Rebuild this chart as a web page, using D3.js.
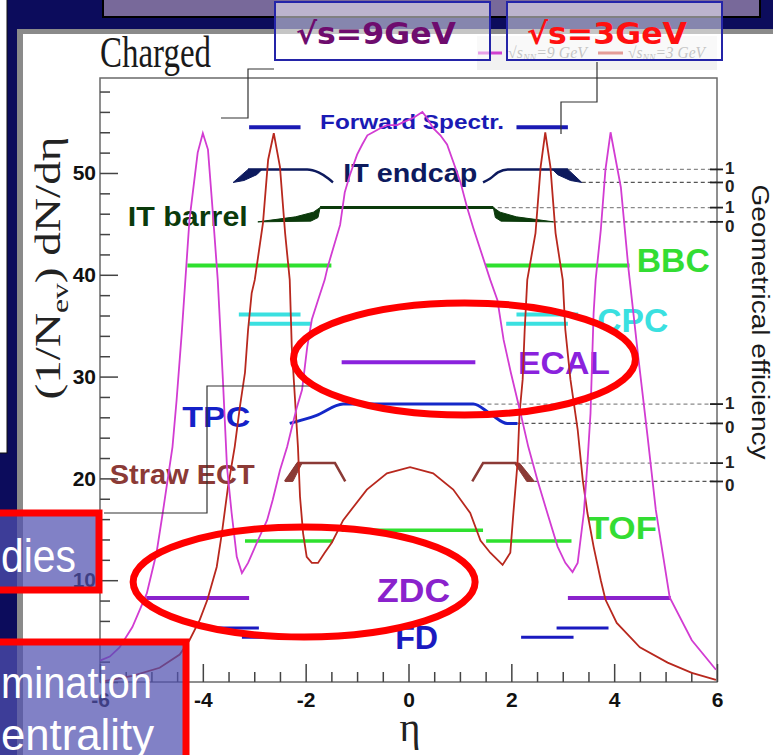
<!DOCTYPE html>
<html>
<head>
<meta charset="utf-8">
<script src="https://cdn.jsdelivr.net/npm/d3@7"></script>
<style>
  html, body { margin: 0; padding: 0; background: #0c0c5c; overflow: hidden; }
  svg { display: block; }
</style>
</head>
<body>
<svg id="chart" width="773" height="755"></svg>
<script>
// ---- charged-particle pseudorapidity distributions ----
const eta9 = [-6.0,-5.81,-5.62,-5.37,-5.09,-4.90,-4.78,-4.59,-4.51,-4.41,-4.26,-4.10,-4.00,-3.90,-3.81,-3.71,-3.61,-3.53,-3.44,-3.34,-3.24,-3.12,-2.93,-2.75,-2.64,-2.50,-2.36,-2.25,-2.17,-2.07,-1.97,-1.88,-1.76,-1.63,-1.57,-1.33,-1.24,-1.14,-1.00,-0.90,-0.80,-0.69,-0.55,-0.42,-0.22,-0.10,0.09,0.27,0.36,0.48,0.62,0.75,0.87,1.01,1.14,1.26,1.59,1.73,1.85,1.99,2.18,2.33,2.51,2.70,2.90,3.05,3.19,3.29,3.41,3.48,3.54,3.60,3.64,3.74,3.83,3.93,4.03,4.13,4.28,4.46,4.65,4.81,5.08,5.51,5.98];
const dn9 = [2.1,2.5,3.4,5.4,8.7,12.7,16.6,23.1,27.7,34.3,45.4,52.0,53.9,52.3,46.4,39.5,29.7,21.1,16.6,12.3,10.7,11.7,13.9,15.9,17.9,20.8,23.1,25.4,27.0,28.7,32.9,35.6,37.5,39.5,40.8,44.9,48.1,49.8,51.8,52.8,53.7,54.0,54.4,54.7,54.7,55.0,55.4,56.0,55.4,54.4,53.7,52.8,51.1,49.1,46.6,44.6,39.5,37.5,33.6,30.4,26.4,23.1,19.8,16.6,13.3,11.7,10.8,11.7,16.6,21.5,26.4,36.2,39.5,44.4,50.3,54.0,51.3,48.6,40.5,32.3,24.1,16.9,8.3,4.1,1.2];

const eta3 = [-6.0,-5.37,-4.84,-4.45,-4.26,-4.06,-3.91,-3.73,-3.63,-3.51,-3.38,-3.28,-3.18,-3.12,-3.05,-2.99,-2.83,-2.73,-2.62,-2.50,-2.40,-2.31,-2.27,-2.21,-2.15,-2.11,-2.05,-1.98,-1.88,-1.76,-1.63,-1.49,-1.27,-0.81,-0.42,0.03,0.48,0.87,1.20,1.40,1.59,1.83,1.98,2.04,2.12,2.16,2.22,2.26,2.31,2.47,2.57,2.66,2.76,2.86,3.00,3.05,3.15,3.29,3.39,3.48,3.60,3.74,3.83,4.05,4.50,5.04,5.51,5.98];
const dn3 = [0.0,0.6,1.4,2.7,4.1,6.1,8.1,11.3,14.6,19.2,23.1,27.0,30.4,34.6,38.2,39.5,45.1,51.3,53.9,50.6,44.1,39.5,32.9,28.0,23.1,18.2,14.6,12.3,11.7,11.7,12.7,13.7,15.9,18.9,20.5,21.1,20.5,18.9,16.6,13.9,12.7,11.5,12.7,16.6,21.5,26.4,29.7,34.6,39.5,44.1,50.6,54.0,50.6,44.1,39.5,34.6,29.7,24.8,19.8,16.6,13.3,10.0,8.1,5.8,3.4,1.9,0.9,0.2];

// ---- axes ----
const xMajorTicks = [-6,-4,-2,0,2,4,6];
const xTickLabels = ["-6","-4","-2","0","2","4","6"];
const yMajorTicks = [0,10,20,30,40,50];
const yTickLabels = ["","10","20","30","40","50"];

// ---- detector acceptances: [eta from, eta to, drawn level] ----
const forwardSpectr = [[-3.1,-2.1,54.5],[2.1,3.1,54.5]];
const bbc = [[-4.3,-1.5,40.9],[1.5,4.3,40.9]];
const cpc = [[-3.3,-2.1,36.1],[-3.1,-1.9,35.2],[1.9,3.1,35.2],[2.1,3.3,36.1]];
const ecal = [[-1.3,1.3,31.4]];
const tof = [[-3.18,-1.47,13.85],[-1.3,1.45,14.9],[1.51,3.17,13.85]];
const zdc = [[-5.1,-3.1,8.25],[3.1,5.1,8.25]];
const fd = [[-3.88,-2.91,5.3],[-3.24,-2.21,4.4],[2.19,3.21,4.4],[2.88,3.89,5.3]];

// ---- geometrical efficiency curves: [eta, efficiency], drawn between "0" and "1" levels ----
const itEndcapLevels = [49.07, 50.35];
const itEndcapLeft = [[-3.12,1],[-1.97,1],[-1.75,0.77],[-1.56,0.3],[-1.47,0]];
const itEndcapRight = [[1.45,0],[1.59,0.3],[1.74,0.77],[1.93,1],[3.1,1]];
const itEndcapWedgeL = [[-3.41,0],[-3.12,1],[-2.85,1],[-2.95,0.6],[-3.2,0.15]];
const itEndcapWedgeR = [[2.8,1],[3.1,1],[3.37,0],[3.15,0.15],[2.9,0.6]];
const itEndcapDash = [3.1, 3.37];

const itBarrelLevels = [45.2, 46.6];
const itBarrel = [[-1.72,1],[1.65,1]];
const itBarrelWedgeL = [[-2.93,0],[-2.2,0.35],[-1.85,0.68],[-1.72,1],[-1.76,0.3],[-1.9,0.05]];
const itBarrelWedgeR = [[1.65,1],[1.78,0.68],[2.1,0.35],[2.82,0],[1.8,0.05],[1.69,0.3]];
const itBarrelDash = [1.6, 2.82];

const tpcLevels = [25.4, 27.3];
const tpc = [[-2.31,0],[-1.8,0.4],[-1.27,1],[1.26,1],[1.59,0.5],[1.92,0],[2.12,0]];
const tpcDash = [1.4, 2.12];

const strawLevels = [19.7, 21.5];
const strawLeft = [[-2.40,0],[-2.15,1],[-1.43,1],[-1.23,0]];
const strawRight = [[1.24,0],[1.45,1],[2.08,1],[2.41,0]];
const strawWedgeL = [[-2.40,0],[-2.17,1],[-2.07,1],[-2.25,0]];
const strawWedgeR = [[2.06,1],[2.16,1],[2.45,0],[2.3,0]];
const strawDash = [2.2, 2.45];

const effLevelSets = [itEndcapLevels, itBarrelLevels, tpcLevels, strawLevels];

const svg = d3.select("#chart");

// ---- slide background ----
svg.append("rect").attr("width", 773).attr("height", 755).attr("fill", "#0c0c5c");
svg.append("rect").attr("x", -5).attr("y", -5).attr("width", 12).attr("height", 458)
  .attr("fill", "#ffffff").attr("stroke", "#111").attr("stroke-width", 1);
svg.append("rect").attr("x", 103).attr("y", -6).attr("width", 657).attr("height", 23)
  .attr("fill", "#78699a").attr("stroke", "#000").attr("stroke-width", 2);
svg.append("rect").attr("x", 17).attr("y", 29).attr("width", 760).attr("height", 730).attr("fill", "#8a8a8a");
svg.append("rect").attr("x", 23).attr("y", 34).attr("width", 760).attr("height", 730).attr("fill", "#ffffff");

// ---- scales ----
const x = d3.scaleLinear().domain([-6, 6]).range([100, 717]);
const y = d3.scaleLinear().domain([0, 59.33]).range([682, 78]);

const plot = svg.append("g");

// legend strip above the frame
plot.append("rect").attr("x", 477).attr("y", 36).attr("width", 240).attr("height", 34).attr("fill", "#f2f2f2");
const legend = plot.append("g").attr("font-family", "Liberation Serif").attr("font-style", "italic").attr("fill", "#8a8a8a").attr("font-size", 16);
legend.append("line").attr("x1", 478).attr("x2", 502).attr("y1", 53).attr("y2", 53).attr("stroke", "#d040d0").attr("stroke-width", 3);
const lt1 = legend.append("text").attr("x", 508).attr("y", 58).attr("textLength", 79).attr("lengthAdjust", "spacingAndGlyphs").text("√s");
lt1.append("tspan").attr("font-size", 10).attr("dy", 3).text("NN");
lt1.append("tspan").attr("dy", -3).text("=9 GeV");
legend.append("line").attr("x1", 598).attr("x2", 623).attr("y1", 53).attr("y2", 53).attr("stroke", "#c83a30").attr("stroke-width", 3);
const lt2 = legend.append("text").attr("x", 628).attr("y", 58).attr("textLength", 77).attr("lengthAdjust", "spacingAndGlyphs").text("√s");
lt2.append("tspan").attr("font-size", 10).attr("dy", 3).text("NN");
lt2.append("tspan").attr("dy", -3).text("=3 GeV");

// title
plot.append("text").attr("x", 100).attr("y", 67).attr("font-family", "Liberation Serif")
  .attr("font-size", 44).attr("fill", "#1a1a1a").attr("textLength", 111).attr("lengthAdjust", "spacingAndGlyphs")
  .text("Charged");

// frame
plot.append("rect").attr("x", x(-6)).attr("y", y(59.33)).attr("width", x(6) - x(-6)).attr("height", y(0) - y(59.33))
  .attr("fill", "none").attr("stroke", "#6a6a6a").attr("stroke-width", 1.5);

// left axis
const yMinor = d3.range(0, 59, 2).filter(v => v % 10 !== 0);
plot.append("g").attr("transform", `translate(${x(-6)},0)`)
  .call(d3.axisLeft(y).tickValues(yMinor).tickSize(-10).tickFormat(""))
  .call(g => g.select(".domain").remove())
  .call(g => g.selectAll("line").attr("stroke", "#444").attr("stroke-width", 1.5));
plot.append("g").attr("transform", `translate(${x(-6)},0)`)
  .call(d3.axisLeft(y).tickValues(yMajorTicks).tickSize(-18).tickPadding(4).tickFormat((d, i) => yTickLabels[i]))
  .call(g => g.select(".domain").remove())
  .call(g => g.selectAll("line").attr("stroke", "#444").attr("stroke-width", 1.5))
  .call(g => g.selectAll("text").attr("font-family", "Liberation Sans").attr("font-weight", "bold")
    .attr("font-size", 21).attr("fill", "#111"));

// bottom axis
const xMinor = d3.range(-6, 6.01, 0.5).filter(v => Math.abs(v % 2) > 0.01);
plot.append("g").attr("transform", `translate(0,${y(0)})`)
  .call(d3.axisBottom(x).tickValues(xMinor).tickSize(-10).tickFormat(""))
  .call(g => g.select(".domain").remove())
  .call(g => g.selectAll("line").attr("stroke", "#444").attr("stroke-width", 1.5));
plot.append("g").attr("transform", `translate(0,${y(0)})`)
  .call(d3.axisBottom(x).tickValues(xMajorTicks).tickSize(-18).tickPadding(10).tickFormat((d, i) => xTickLabels[i]))
  .call(g => g.select(".domain").remove())
  .call(g => g.selectAll("line").attr("stroke", "#444").attr("stroke-width", 1.5))
  .call(g => g.selectAll("text").attr("font-family", "Liberation Sans").attr("font-weight", "bold")
    .attr("font-size", 21).attr("fill", "#111"));

// axis titles
plot.append("text").attr("transform", `translate(410,741)`).attr("text-anchor", "middle")
  .attr("font-family", "Liberation Serif").attr("font-size", 40).attr("fill", "#222").text("η");
const yTitle = plot.append("text").attr("transform", `translate(60,268) rotate(-90)`).attr("text-anchor", "middle")
  .attr("font-family", "Liberation Serif").attr("font-size", 36).attr("fill", "#222")
  .attr("textLength", 263).attr("lengthAdjust", "spacingAndGlyphs");
yTitle.append("tspan").text("(1/N");
yTitle.append("tspan").attr("font-size", 24).attr("dy", 8).text("ev");
yTitle.append("tspan").attr("dy", -8).text(") dN/dη");

plot.append("text").attr("transform", `translate(752,322) rotate(90)`).attr("text-anchor", "middle")
  .attr("font-family", "Liberation Sans").attr("font-size", 23).attr("fill", "#1a1a1a")
  .attr("textLength", 275).attr("lengthAdjust", "spacingAndGlyphs").text("Geometrical efficiency");

// ---- efficiency helpers ----
const effLine = lv => d3.line().x(d => x(d[0])).y(d => y(lv[0] + d[1] * (lv[1] - lv[0])));
const effSmooth = lv => d3.line().curve(d3.curveMonotoneX).x(d => x(d[0])).y(d => y(lv[0] + d[1] * (lv[1] - lv[0])));
const effArea = lv => d3.line().curve(d3.curveLinearClosed).x(d => x(d[0])).y(d => y(lv[0] + d[1] * (lv[1] - lv[0])));

// dashed guides to the efficiency scale
const dashDefs = [[itEndcapLevels, itEndcapDash], [itBarrelLevels, itBarrelDash], [tpcLevels, tpcDash], [strawLevels, strawDash]];
dashDefs.forEach(([lv, ds]) => {
  [1, 0].forEach((e, i) => {
    plot.append("line").attr("x1", x(ds[i])).attr("x2", x(6))
      .attr("y1", y(lv[e])).attr("y2", y(lv[e]))
      .attr("stroke", e === 1 ? "#8a8a8a" : "#555").attr("stroke-width", 1.2).attr("stroke-dasharray", "4,3");
  });
});

// efficiency scale ticks and labels
effLevelSets.forEach(lv => {
  [[lv[1], "1", -1], [lv[0], "0", 4]].forEach(([v, t, off]) => {
    plot.append("line").attr("x1", x(6) - 7).attr("x2", x(6) + 6).attr("y1", y(v)).attr("y2", y(v))
      .attr("stroke", "#222").attr("stroke-width", 1.8);
    plot.append("text").attr("x", x(6) + 8).attr("y", y(v) + off + 6)
      .attr("font-family", "Liberation Sans").attr("font-weight", "bold").attr("font-size", 17)
      .attr("fill", "#222").text(t);
  });
});

// ---- detector acceptance bars ----
function bars(segs, color, width) {
  plot.append("g").selectAll("line").data(segs).join("line")
    .attr("x1", d => x(d[0])).attr("x2", d => x(d[1]))
    .attr("y1", d => y(d[2])).attr("y2", d => y(d[2]))
    .attr("stroke", color).attr("stroke-width", width);
}
bars(forwardSpectr, "#1a1ab4", 4);
bars(bbc, "#2ee02e", 4);
bars(cpc, "#3ae0e0", 4);
bars(ecal, "#8a22dd", 4);
bars(tof, "#2ee02e", 3.5);
bars(zdc, "#8a22cc", 4);
bars(fd, "#1a1ac0", 3);

// IT endcap
const cEnd = "#0d1a5e";
[itEndcapLeft, itEndcapRight].forEach(p => plot.append("path").attr("d", effSmooth(itEndcapLevels)(p))
  .attr("fill", "none").attr("stroke", cEnd).attr("stroke-width", 2.5));
[itEndcapWedgeL, itEndcapWedgeR].forEach(p => plot.append("path").attr("d", effArea(itEndcapLevels)(p))
  .attr("fill", cEnd).attr("stroke", cEnd).attr("stroke-width", 1));

// IT barrel
const cBar = "#0b3a0b";
plot.append("path").attr("d", effLine(itBarrelLevels)(itBarrel)).attr("fill", "none").attr("stroke", cBar).attr("stroke-width", 3);
[itBarrelWedgeL, itBarrelWedgeR].forEach(p => plot.append("path").attr("d", effArea(itBarrelLevels)(p))
  .attr("fill", cBar).attr("stroke", cBar).attr("stroke-width", 1));

// TPC
plot.append("path").attr("d", effSmooth(tpcLevels)(tpc)).attr("fill", "none").attr("stroke", "#1428c8").attr("stroke-width", 3);

// Straw ECT
const cStraw = "#8b3a36";
[strawLeft, strawRight].forEach(p => plot.append("path").attr("d", effLine(strawLevels)(p))
  .attr("fill", "none").attr("stroke", cStraw).attr("stroke-width", 2.5));
[strawWedgeL, strawWedgeR].forEach(p => plot.append("path").attr("d", effArea(strawLevels)(p))
  .attr("fill", cStraw).attr("stroke", cStraw).attr("stroke-width", 1));

// detector names: [text, eta of left edge, level of centre, font size, width, colour]
const detLabels = [
  ["Forward Spectr.", -1.72, 55.1, 21, 184, "#1a1ab4"],
  ["IT endcap", -1.27, 50.05, 26, 134, "#0d1a5e"],
  ["IT barrel", -5.46, 45.78, 28, 120, "#0b3a0b"],
  ["BBC", 4.44, 41.45, 33, 73, "#33dd33"],
  ["CPC", 3.67, 35.56, 33, 71, "#3ae0e0"],
  ["ECAL", 2.13, 31.34, 32, 92, "#8a22dd"],
  ["TPC", -4.40, 26.13, 30, 68, "#1420c8"],
  ["Straw ECT", -5.81, 20.43, 27, 145, "#8b3a36"],
  ["TOF", 3.49, 15.13, 32, 69, "#33dd33"],
  ["ZDC", -0.61, 9.04, 33, 73, "#8a22cc"],
  ["FD", -0.26, 4.42, 34, 43, "#1a1ac0"]
];
plot.append("g").selectAll("text").data(detLabels).join("text")
  .attr("x", d => x(d[1])).attr("y", d => y(d[2]) + 0.358 * d[3])
  .attr("font-family", "Liberation Sans").attr("font-weight", "bold")
  .attr("font-size", d => d[3]).attr("fill", d => d[5])
  .attr("textLength", d => d[4]).attr("lengthAdjust", "spacingAndGlyphs")
  .text(d => d[0]);

// ---- distributions ----
const curve = d3.line().x(d => x(d[0])).y(d => y(d[1]));
plot.append("path").attr("d", curve(d3.zip(eta3, dn3))).attr("fill", "none").attr("stroke", "#b8281e").attr("stroke-width", 1.8);
plot.append("path").attr("d", curve(d3.zip(eta9, dn9))).attr("fill", "none").attr("stroke", "#d23cd2").attr("stroke-width", 1.8);

// ---- slide overlays ----
const over = svg.append("g");
const conn = "#333";
over.append("path").attr("d", "M274,69 H248 V118 H221").attr("fill", "none").attr("stroke", conn).attr("stroke-width", 1.2);
over.append("path").attr("d", "M597,62 V102 H561 V134").attr("fill", "none").attr("stroke", conn).attr("stroke-width", 1.2);
over.append("path").attr("d", "M311,386 H207 V513 H104").attr("fill", "none").attr("stroke", conn).attr("stroke-width", 1.2);

// energy boxes
[["√s=9GeV", 275, 296, "#6e0c6e"], ["√s=3GeV", 507, 527, "#ff1010"]].forEach(([t, bx, tx, col]) => {
  over.append("rect").attr("x", bx).attr("y", 2).attr("width", 215).attr("height", 58)
    .attr("fill", "#ffffff").attr("fill-opacity", 0.5).attr("stroke", "#2424a8").attr("stroke-width", 2);
  over.append("text").attr("x", tx).attr("y", 44).attr("font-family", "DejaVu Sans").attr("font-weight", "bold")
    .attr("font-size", 30).attr("fill", col).attr("textLength", 160).attr("lengthAdjust", "spacingAndGlyphs").text(t);
});

// highlight ellipses
over.append("ellipse").attr("cx", x(1.088)).attr("cy", y(31.73)).attr("rx", 171).attr("ry", 56)
  .attr("fill", "none").attr("stroke", "#ff0000").attr("stroke-width", 7);
over.append("ellipse").attr("cx", x(-2.03)).attr("cy", y(9.82)).attr("rx", 171).attr("ry", 55)
  .attr("fill", "none").attr("stroke", "#ff0000").attr("stroke-width", 7);

// side boxes
const boxFill = "#5050b0";
over.append("rect").attr("x", -20).attr("y", 513).attr("width", 119).attr("height", 77)
  .attr("fill", boxFill).attr("fill-opacity", 0.72).attr("stroke", "#ff0000").attr("stroke-width", 7);
over.append("text").attr("x", 1).attr("y", 572).attr("font-family", "Liberation Sans")
  .attr("font-size", 46).attr("fill", "#ffffff").attr("textLength", 75).attr("lengthAdjust", "spacingAndGlyphs").text("dies");
over.append("rect").attr("x", -20).attr("y", 642).attr("width", 206).attr("height", 130)
  .attr("fill", boxFill).attr("fill-opacity", 0.72).attr("stroke", "#ff0000").attr("stroke-width", 7);
over.append("text").attr("x", 1).attr("y", 698).attr("font-family", "Liberation Sans")
  .attr("font-size", 44).attr("fill", "#ffffff").attr("textLength", 151).attr("lengthAdjust", "spacingAndGlyphs").text("mination");
over.append("text").attr("x", 1).attr("y", 750).attr("font-family", "Liberation Sans")
  .attr("font-size", 44).attr("fill", "#ffffff").attr("textLength", 153).attr("lengthAdjust", "spacingAndGlyphs").text("entrality");
</script>
</body>
</html>
